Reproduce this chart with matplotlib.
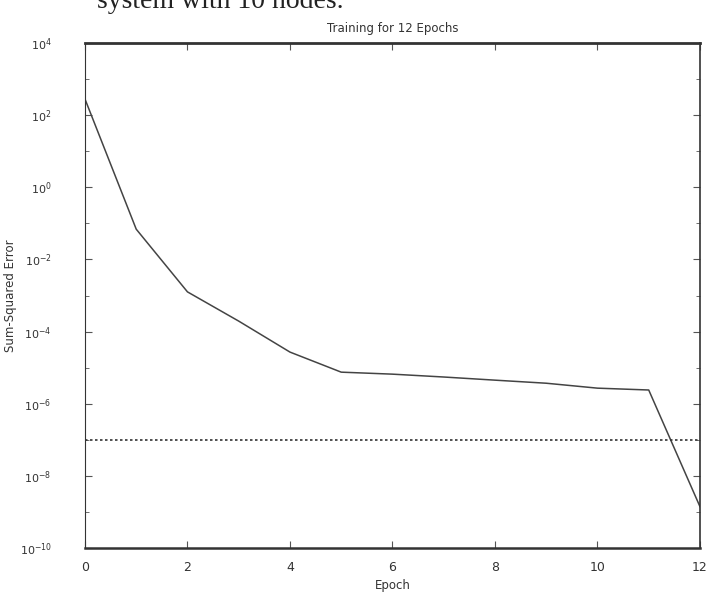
import matplotlib
matplotlib.use("Agg")
import matplotlib.pyplot as plt
import matplotlib.ticker as mticker
import numpy as np

# Sum-squared error per epoch
epochs = [0, 1, 2, 3, 4, 5, 6, 7, 8, 9, 10, 11, 12]
sse = [280, 0.069, 1.26e-3, 1.95e-4, 2.7e-5, 7.5e-6, 6.6e-6,
       5.5e-6, 4.5e-6, 3.7e-6, 2.7e-6, 2.4e-6, 1.4e-9]
goal = 1.0e-7

xticks = [0, 2, 4, 6, 8, 10, 12]
ytick_exp = [4, 2, 0, -2, -4, -6, -8, -10]

fig = plt.figure(figsize=(7.11, 5.98), dpi=100)
ax = fig.add_axes([0.1195, 0.0836, 0.865, 0.8445])

# Lernkurve und Zielwert
ax.semilogy(epochs, sse, color="#444444", lw=1.1)
ax.semilogy([epochs[0], epochs[-1]], [goal, goal], color="#333333", lw=1.2, ls=(0, (1.5, 1.5)))

ax.set_xlim(0, 12)
ax.set_ylim(1e-10, 1e4)
ax.set_xticks(xticks)
ax.set_xticklabels([str(t) for t in xticks], fontsize=9, color="#333333")
ax.set_yticks([10.0 ** e for e in ytick_exp])
ax.set_yticklabels([r"$10^{%d}$" % e for e in ytick_exp], fontsize=8, color="#333333")
ax.yaxis.set_minor_locator(mticker.LogLocator(base=10, subs=[1.0], numticks=30))
ax.yaxis.set_minor_formatter(mticker.NullFormatter())
ax.tick_params(axis="both", which="both", direction="in", top=True, right=True, color="#555555")
ax.tick_params(axis="y", which="major", length=5, pad=24)
ax.tick_params(axis="y", which="minor", length=3)
ax.tick_params(axis="x", which="major", length=5, pad=9)

ax.spines["top"].set_linewidth(2.0)
ax.spines["bottom"].set_linewidth(1.8)
ax.spines["right"].set_linewidth(1.2)
ax.spines["left"].set_linewidth(0.8)
for s in ax.spines.values():
    s.set_color("#333333")

ax.set_title("Training for 12 Epochs", fontsize=8.5, color="#333333", pad=8)
ax.set_xlabel("Epoch", fontsize=8.5, color="#333333", labelpad=4)
ax.set_ylabel("Sum-Squared Error", fontsize=8.5, color="#333333")
ax.yaxis.set_label_coords(-0.11, 0.5)

# abgeschnittener Text aus dem gescannten Dokument (oben angeschnitten wie im Scan)
fig.text(0.136, 1 - 8 / 598, "system with 10 nodes.", fontsize=20,
         family="Liberation Serif", va="baseline", color="#222222")

fig.savefig("out.png", dpi=100)
